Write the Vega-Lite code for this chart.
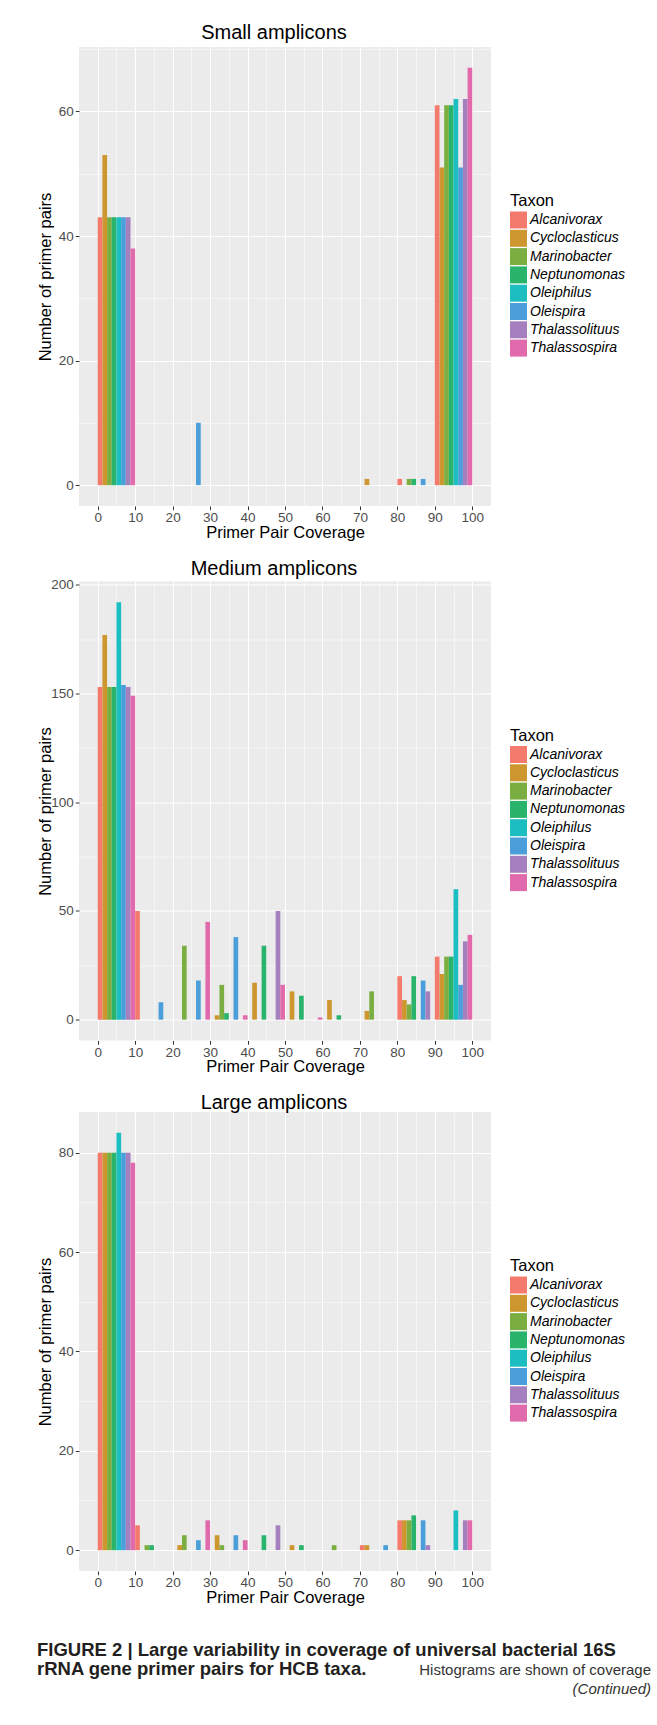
{
  "$schema": "https://vega.github.io/schema/vega-lite/v6.json",
  "background": "white",
  "padding": {"left": 37, "top": 23, "right": 0, "bottom": 0},
  "align": "none",
  "spacing": 17.5,
  "config": {
    "font": "Liberation Sans",
    "view": {"fill": "#EBEBEB", "stroke": null},
    "title": {"fontSize": 20, "fontWeight": "normal", "color": "#000000", "offset": -1, "anchor": "middle"},
    "axis": {
      "domain": false,
      "gridColor": "#FFFFFF",
      "tickColor": "#333333",
      "tickSize": 3.7,
      "labelColor": "#4D4D4D",
      "labelFontSize": 13.5,
      "labelPadding": 2,
      "labelOverlap": false,
      "titleFontSize": 16.5,
      "titleFontWeight": "normal",
      "titleColor": "#000000"
    },
    "axisX": {"titlePadding": 0, "labelPadding": 1, "labelFlush": false},
    "axisY": {"titlePadding": 5},
    "legend": {
      "titleFontSize": 16.5,
      "titleFontWeight": "normal",
      "titleColor": "#000000",
      "titlePadding": 2,
      "labelFontSize": 14,
      "labelFontStyle": "italic",
      "labelColor": "#000000",
      "labelOffset": 3,
      "symbolType": "square",
      "symbolSize": 289,
      "symbolStrokeWidth": 0,
      "symbolOpacity": 1,
      "rowPadding": 1.3
    }
  },
  "datasets": {
    "small": [
      {"bin": 0, "taxon": "Alcanivorax", "count": 43},
      {"bin": 0, "taxon": "Cycloclasticus", "count": 53},
      {"bin": 0, "taxon": "Marinobacter", "count": 43},
      {"bin": 0, "taxon": "Neptunomonas", "count": 43},
      {"bin": 0, "taxon": "Oleiphilus", "count": 43},
      {"bin": 0, "taxon": "Oleispira", "count": 43},
      {"bin": 0, "taxon": "Thalassolituus", "count": 43},
      {"bin": 0, "taxon": "Thalassospira", "count": 38},
      {"bin": 20, "taxon": "Oleispira", "count": 10},
      {"bin": 70, "taxon": "Cycloclasticus", "count": 1},
      {"bin": 80, "taxon": "Alcanivorax", "count": 1},
      {"bin": 80, "taxon": "Marinobacter", "count": 1},
      {"bin": 80, "taxon": "Neptunomonas", "count": 1},
      {"bin": 80, "taxon": "Oleispira", "count": 1},
      {"bin": 90, "taxon": "Alcanivorax", "count": 61},
      {"bin": 90, "taxon": "Cycloclasticus", "count": 51},
      {"bin": 90, "taxon": "Marinobacter", "count": 61},
      {"bin": 90, "taxon": "Neptunomonas", "count": 61},
      {"bin": 90, "taxon": "Oleiphilus", "count": 62},
      {"bin": 90, "taxon": "Oleispira", "count": 51},
      {"bin": 90, "taxon": "Thalassolituus", "count": 62},
      {"bin": 90, "taxon": "Thalassospira", "count": 67}
    ],
    "medium": [
      {"bin": 0, "taxon": "Alcanivorax", "count": 153},
      {"bin": 0, "taxon": "Cycloclasticus", "count": 177},
      {"bin": 0, "taxon": "Marinobacter", "count": 153},
      {"bin": 0, "taxon": "Neptunomonas", "count": 153},
      {"bin": 0, "taxon": "Oleiphilus", "count": 192},
      {"bin": 0, "taxon": "Oleispira", "count": 154},
      {"bin": 0, "taxon": "Thalassolituus", "count": 153},
      {"bin": 0, "taxon": "Thalassospira", "count": 149},
      {"bin": 10, "taxon": "Alcanivorax", "count": 50},
      {"bin": 10, "taxon": "Oleispira", "count": 8},
      {"bin": 20, "taxon": "Marinobacter", "count": 34},
      {"bin": 20, "taxon": "Oleispira", "count": 18},
      {"bin": 20, "taxon": "Thalassospira", "count": 45},
      {"bin": 30, "taxon": "Cycloclasticus", "count": 2},
      {"bin": 30, "taxon": "Marinobacter", "count": 16},
      {"bin": 30, "taxon": "Neptunomonas", "count": 3},
      {"bin": 30, "taxon": "Oleispira", "count": 38},
      {"bin": 30, "taxon": "Thalassospira", "count": 2},
      {"bin": 40, "taxon": "Cycloclasticus", "count": 17},
      {"bin": 40, "taxon": "Neptunomonas", "count": 34},
      {"bin": 40, "taxon": "Thalassolituus", "count": 50},
      {"bin": 40, "taxon": "Thalassospira", "count": 16},
      {"bin": 50, "taxon": "Cycloclasticus", "count": 13},
      {"bin": 50, "taxon": "Neptunomonas", "count": 11},
      {"bin": 50, "taxon": "Thalassospira", "count": 1},
      {"bin": 60, "taxon": "Cycloclasticus", "count": 9},
      {"bin": 60, "taxon": "Neptunomonas", "count": 2},
      {"bin": 70, "taxon": "Cycloclasticus", "count": 4},
      {"bin": 70, "taxon": "Marinobacter", "count": 13},
      {"bin": 80, "taxon": "Alcanivorax", "count": 20},
      {"bin": 80, "taxon": "Cycloclasticus", "count": 9},
      {"bin": 80, "taxon": "Marinobacter", "count": 7},
      {"bin": 80, "taxon": "Neptunomonas", "count": 20},
      {"bin": 80, "taxon": "Oleispira", "count": 18},
      {"bin": 80, "taxon": "Thalassolituus", "count": 13},
      {"bin": 90, "taxon": "Alcanivorax", "count": 29},
      {"bin": 90, "taxon": "Cycloclasticus", "count": 21},
      {"bin": 90, "taxon": "Marinobacter", "count": 29},
      {"bin": 90, "taxon": "Neptunomonas", "count": 29},
      {"bin": 90, "taxon": "Oleiphilus", "count": 60},
      {"bin": 90, "taxon": "Oleispira", "count": 16},
      {"bin": 90, "taxon": "Thalassolituus", "count": 36},
      {"bin": 90, "taxon": "Thalassospira", "count": 39}
    ],
    "large": [
      {"bin": 0, "taxon": "Alcanivorax", "count": 80},
      {"bin": 0, "taxon": "Cycloclasticus", "count": 80},
      {"bin": 0, "taxon": "Marinobacter", "count": 80},
      {"bin": 0, "taxon": "Neptunomonas", "count": 80},
      {"bin": 0, "taxon": "Oleiphilus", "count": 84},
      {"bin": 0, "taxon": "Oleispira", "count": 80},
      {"bin": 0, "taxon": "Thalassolituus", "count": 80},
      {"bin": 0, "taxon": "Thalassospira", "count": 78},
      {"bin": 10, "taxon": "Alcanivorax", "count": 5},
      {"bin": 10, "taxon": "Marinobacter", "count": 1},
      {"bin": 10, "taxon": "Neptunomonas", "count": 1},
      {"bin": 20, "taxon": "Cycloclasticus", "count": 1},
      {"bin": 20, "taxon": "Marinobacter", "count": 3},
      {"bin": 20, "taxon": "Oleispira", "count": 2},
      {"bin": 20, "taxon": "Thalassospira", "count": 6},
      {"bin": 30, "taxon": "Cycloclasticus", "count": 3},
      {"bin": 30, "taxon": "Marinobacter", "count": 1},
      {"bin": 30, "taxon": "Oleispira", "count": 3},
      {"bin": 30, "taxon": "Thalassospira", "count": 2},
      {"bin": 40, "taxon": "Neptunomonas", "count": 3},
      {"bin": 40, "taxon": "Thalassolituus", "count": 5},
      {"bin": 50, "taxon": "Cycloclasticus", "count": 1},
      {"bin": 50, "taxon": "Neptunomonas", "count": 1},
      {"bin": 60, "taxon": "Marinobacter", "count": 1},
      {"bin": 70, "taxon": "Alcanivorax", "count": 1},
      {"bin": 70, "taxon": "Cycloclasticus", "count": 1},
      {"bin": 70, "taxon": "Oleispira", "count": 1},
      {"bin": 80, "taxon": "Alcanivorax", "count": 6},
      {"bin": 80, "taxon": "Cycloclasticus", "count": 6},
      {"bin": 80, "taxon": "Marinobacter", "count": 6},
      {"bin": 80, "taxon": "Neptunomonas", "count": 7},
      {"bin": 80, "taxon": "Oleispira", "count": 6},
      {"bin": 80, "taxon": "Thalassolituus", "count": 1},
      {"bin": 90, "taxon": "Oleiphilus", "count": 8},
      {"bin": 90, "taxon": "Thalassolituus", "count": 6},
      {"bin": 90, "taxon": "Thalassospira", "count": 6}
    ],
    "caption": [
      {"line": 1, "side": "left", "part": "heading", "text": "FIGURE 2 | Large variability in coverage of universal bacterial 16S"},
      {"line": 2, "side": "left", "part": "heading", "text": "rRNA gene primer pairs for HCB taxa."},
      {"line": 2, "side": "right", "part": "body", "text": "Histograms are shown of coverage"},
      {"line": 3, "side": "right", "part": "note", "text": "(Continued)"}
    ]
  },
  "resolve": {"scale": {"color": "independent"}},
  "vconcat": [
    {
      "title": {"text": "Small amplicons", "dx": -11},
      "width": 412,
      "height": 459,
      "data": {"name": "small"},
      "layer": [
        {
          "mark": {"type": "rule", "opacity": 0},
          "encoding": {
            "x": {
              "field": "bin", "type": "quantitative",
              "scale": {"domain": [-5, 105], "nice": false, "zero": false},
              "axis": {
                "orient": "bottom",
                "title": "Primer Pair Coverage",
                "values": [0, 5, 10, 15, 20, 25, 30, 35, 40, 45, 50, 55, 60, 65, 70, 75, 80, 85, 90, 95, 100],
                "labelExpr": "datum.value % 10 === 0 ? datum.label : ''",
                "gridWidth": {"condition": {"test": "datum.value % 10 === 0", "value": 1.1}, "value": 0.5},
                "tickOpacity": {"condition": {"test": "datum.value % 10 === 0", "value": 1}, "value": 0}
              }
            }
          }
        },
        {
          "mark": "bar",
          "encoding": {
            "x": {
              "field": "bin", "type": "ordinal",
              "scale": {"domain": [0, 10, 20, 30, 40, 50, 60, 70, 80, 90], "paddingInner": 0, "paddingOuter": 0.5},
              "axis": null
            },
            "xOffset": {
              "field": "taxon", "type": "nominal",
              "scale": {"domain": ["Alcanivorax", "Cycloclasticus", "Marinobacter", "Neptunomonas", "Oleiphilus", "Oleispira", "Thalassolituus", "Thalassospira"], "paddingInner": 0, "paddingOuter": 0}
            },
            "y": {
              "field": "count", "type": "quantitative",
              "scale": {"domain": [-3.35, 70.35], "nice": false, "zero": false},
              "axis": {
                "title": "Number of primer pairs",
                "values": [0, 10, 20, 30, 40, 50, 60, 70],
                "labelExpr": "datum.value % 20 === 0 ? datum.label : ''",
                "gridWidth": {"condition": {"test": "datum.value % 20 === 0", "value": 1.1}, "value": 0.5},
                "tickOpacity": {"condition": {"test": "datum.value % 20 === 0", "value": 1}, "value": 0}
              }
            },
            "color": {
              "field": "taxon", "type": "nominal",
              "scale": {
                "domain": ["Alcanivorax", "Cycloclasticus", "Marinobacter", "Neptunomonas", "Oleiphilus", "Oleispira", "Thalassolituus", "Thalassospira"],
                "range": ["#F47A6E", "#CD962F", "#7BAE41", "#2AB36B", "#1DBEC1", "#4A9FDA", "#A680BE", "#E06AAC"]
              },
              "legend": {"title": "Taxon", "orient": "none", "legendX": 431, "legendY": 146}
            }
          }
        }
      ],
      "resolve": {"scale": {"x": "independent"}}
    },
    {
      "title": {"text": "Medium amplicons", "dx": -11},
      "width": 412,
      "height": 459,
      "data": {"name": "medium"},
      "layer": [
        {
          "mark": {"type": "rule", "opacity": 0},
          "encoding": {
            "x": {
              "field": "bin", "type": "quantitative",
              "scale": {"domain": [-5, 105], "nice": false, "zero": false},
              "axis": {
                "orient": "bottom",
                "title": "Primer Pair Coverage",
                "values": [0, 5, 10, 15, 20, 25, 30, 35, 40, 45, 50, 55, 60, 65, 70, 75, 80, 85, 90, 95, 100],
                "labelExpr": "datum.value % 10 === 0 ? datum.label : ''",
                "gridWidth": {"condition": {"test": "datum.value % 10 === 0", "value": 1.1}, "value": 0.5},
                "tickOpacity": {"condition": {"test": "datum.value % 10 === 0", "value": 1}, "value": 0}
              }
            }
          }
        },
        {
          "mark": "bar",
          "encoding": {
            "x": {
              "field": "bin", "type": "ordinal",
              "scale": {"domain": [0, 10, 20, 30, 40, 50, 60, 70, 80, 90], "paddingInner": 0, "paddingOuter": 0.5},
              "axis": null
            },
            "xOffset": {
              "field": "taxon", "type": "nominal",
              "scale": {"domain": ["Alcanivorax", "Cycloclasticus", "Marinobacter", "Neptunomonas", "Oleiphilus", "Oleispira", "Thalassolituus", "Thalassospira"], "paddingInner": 0, "paddingOuter": 0}
            },
            "y": {
              "field": "count", "type": "quantitative",
              "scale": {"domain": [-9.6, 201.6], "nice": false, "zero": false},
              "axis": {
                "title": "Number of primer pairs",
                "titlePadding": -2.5,
                "values": [0, 25, 50, 75, 100, 125, 150, 175, 200],
                "labelExpr": "datum.value % 50 === 0 ? datum.label : ''",
                "gridWidth": {"condition": {"test": "datum.value % 50 === 0", "value": 1.1}, "value": 0.5},
                "tickOpacity": {"condition": {"test": "datum.value % 50 === 0", "value": 1}, "value": 0}
              }
            },
            "color": {
              "field": "taxon", "type": "nominal",
              "scale": {
                "domain": ["Alcanivorax", "Cycloclasticus", "Marinobacter", "Neptunomonas", "Oleiphilus", "Oleispira", "Thalassolituus", "Thalassospira"],
                "range": ["#F47A6E", "#CD962F", "#7BAE41", "#2AB36B", "#1DBEC1", "#4A9FDA", "#A680BE", "#E06AAC"]
              },
              "legend": {"title": "Taxon", "orient": "none", "legendX": 431, "legendY": 146}
            }
          }
        }
      ],
      "resolve": {"scale": {"x": "independent"}}
    },
    {
      "title": {"text": "Large amplicons", "dx": -11},
      "width": 412,
      "height": 459,
      "data": {"name": "large"},
      "layer": [
        {
          "mark": {"type": "rule", "opacity": 0},
          "encoding": {
            "x": {
              "field": "bin", "type": "quantitative",
              "scale": {"domain": [-5, 105], "nice": false, "zero": false},
              "axis": {
                "orient": "bottom",
                "title": "Primer Pair Coverage",
                "values": [0, 5, 10, 15, 20, 25, 30, 35, 40, 45, 50, 55, 60, 65, 70, 75, 80, 85, 90, 95, 100],
                "labelExpr": "datum.value % 10 === 0 ? datum.label : ''",
                "gridWidth": {"condition": {"test": "datum.value % 10 === 0", "value": 1.1}, "value": 0.5},
                "tickOpacity": {"condition": {"test": "datum.value % 10 === 0", "value": 1}, "value": 0}
              }
            }
          }
        },
        {
          "mark": "bar",
          "encoding": {
            "x": {
              "field": "bin", "type": "ordinal",
              "scale": {"domain": [0, 10, 20, 30, 40, 50, 60, 70, 80, 90], "paddingInner": 0, "paddingOuter": 0.5},
              "axis": null
            },
            "xOffset": {
              "field": "taxon", "type": "nominal",
              "scale": {"domain": ["Alcanivorax", "Cycloclasticus", "Marinobacter", "Neptunomonas", "Oleiphilus", "Oleispira", "Thalassolituus", "Thalassospira"], "paddingInner": 0, "paddingOuter": 0}
            },
            "y": {
              "field": "count", "type": "quantitative",
              "scale": {"domain": [-4.2, 88.2], "nice": false, "zero": false},
              "axis": {
                "title": "Number of primer pairs",
                "values": [0, 10, 20, 30, 40, 50, 60, 70, 80],
                "labelExpr": "datum.value % 20 === 0 ? datum.label : ''",
                "gridWidth": {"condition": {"test": "datum.value % 20 === 0", "value": 1.1}, "value": 0.5},
                "tickOpacity": {"condition": {"test": "datum.value % 20 === 0", "value": 1}, "value": 0}
              }
            },
            "color": {
              "field": "taxon", "type": "nominal",
              "scale": {
                "domain": ["Alcanivorax", "Cycloclasticus", "Marinobacter", "Neptunomonas", "Oleiphilus", "Oleispira", "Thalassolituus", "Thalassospira"],
                "range": ["#F47A6E", "#CD962F", "#7BAE41", "#2AB36B", "#1DBEC1", "#4A9FDA", "#A680BE", "#E06AAC"]
              },
              "legend": {"title": "Taxon", "orient": "none", "legendX": 431, "legendY": 146}
            }
          }
        }
      ],
      "resolve": {"scale": {"x": "independent"}}
    },
    {
      "width": 572,
      "height": 70.3,
      "view": {"fill": "white", "stroke": null},
      "data": {"name": "caption"},
      "encoding": {
        "x": {
          "field": "side", "type": "nominal",
          "scale": {"type": "point", "domain": ["left", "right"], "padding": 0},
          "axis": null
        },
        "y": {
          "field": "line", "type": "quantitative",
          "scale": {"domain": [-0.7, 3], "reverse": true, "nice": false, "zero": false},
          "axis": null
        },
        "text": {"field": "text"}
      },
      "layer": [
        {
          "transform": [{"filter": "datum.part === 'heading'"}],
          "mark": {"type": "text", "align": "left", "baseline": "alphabetic", "dx": -42, "fontSize": 18.5, "fontWeight": "bold", "color": "#231F20"}
        },
        {
          "transform": [{"filter": "datum.part === 'body'"}],
          "mark": {"type": "text", "align": "right", "baseline": "alphabetic", "fontSize": 15, "color": "#333333"}
        },
        {
          "transform": [{"filter": "datum.part === 'note'"}],
          "mark": {"type": "text", "align": "right", "baseline": "alphabetic", "fontSize": 15, "fontStyle": "italic", "color": "#333333"}
        }
      ]
    }
  ]
}
